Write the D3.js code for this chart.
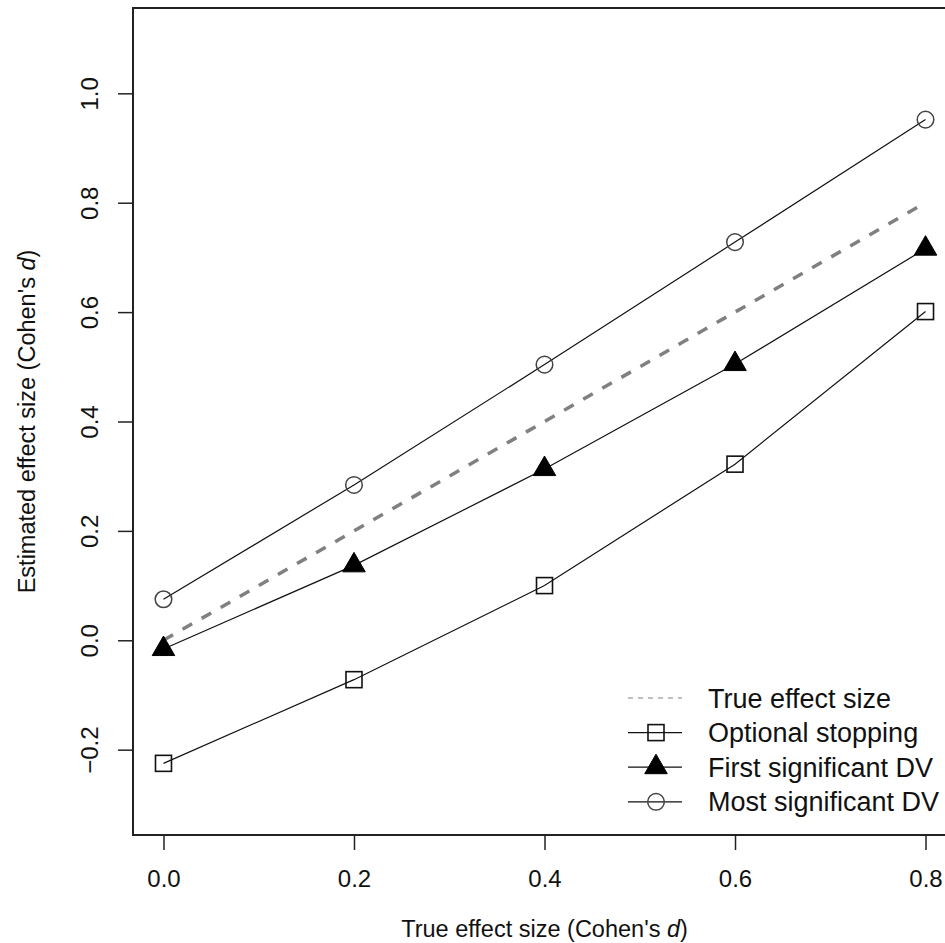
<!DOCTYPE html>
<html>
<head>
<meta charset="utf-8">
<script src="https://cdn.jsdelivr.net/npm/d3@7"></script>
<style>
  body { margin: 0; background: #fff; }
  svg { font-family: "Liberation Sans", Arial, sans-serif; }
</style>
</head>
<body>
<div id="chart"></div>
<script>
// true effect sizes on the x axis
const trueEffect = [0, 0.2, 0.4, 0.6, 0.8];
// estimated effect sizes per strategy
const optionalStopping = [-0.225, -0.072, 0.100, 0.322, 0.601];
const firstSignificant = [-0.016, 0.137, 0.313, 0.505, 0.716];
const mostSignificant = [0.075, 0.284, 0.504, 0.728, 0.952];

const xTicks = [0, 0.2, 0.4, 0.6, 0.8];
const yTicks = [-0.2, 0, 0.2, 0.4, 0.6, 0.8, 1.0];
const legendLabels = ["True effect size", "Optional stopping", "First significant DV", "Most significant DV"];

const width = 945, height = 943;
const margin = {top: 8, right: -11, bottom: 108, left: 133};

const svg = d3.select("#chart").append("svg")
    .attr("width", width)
    .attr("height", height);

// R style: limits padded by 4%
const x = d3.scaleLinear()
    .domain([-0.032, 0.832])
    .range([margin.left, width - margin.right]);
const y = d3.scaleLinear()
    .domain([-0.356, 1.156])
    .range([height - margin.bottom, margin.top]);

const fmt = d3.format(".1f");

// x axis
const xAxisG = svg.append("g")
    .attr("transform", `translate(0,${y.range()[0]})`)
    .call(d3.axisBottom(x).tickValues(xTicks).tickFormat(fmt).tickSize(15).tickSizeOuter(0));
xAxisG.select(".domain").remove();
xAxisG.selectAll(".tick line").attr("stroke", "#222").attr("stroke-width", 1.5);
xAxisG.selectAll(".tick text")
    .attr("y", 52)
    .attr("dy", 0)
    .attr("font-size", 24)
    .attr("fill", "#111");

// y axis, labels rotated like R's default
const yAxisG = svg.append("g")
    .attr("transform", `translate(${x.range()[0]},0)`)
    .call(d3.axisLeft(y).tickValues(yTicks).tickFormat(fmt).tickSize(15).tickSizeOuter(0));
yAxisG.select(".domain").remove();
yAxisG.selectAll(".tick line").attr("stroke", "#222").attr("stroke-width", 1.5);
yAxisG.selectAll(".tick text")
    .attr("x", 0).attr("y", 0).attr("dy", 0)
    .attr("transform", "translate(-35,0) rotate(-90)")
    .attr("text-anchor", "middle")
    .attr("font-size", 24)
    .attr("fill", "#111");

// plot box
svg.append("rect")
    .attr("x", x.range()[0])
    .attr("y", y.range()[1])
    .attr("width", x.range()[1] - x.range()[0])
    .attr("height", y.range()[0] - y.range()[1])
    .attr("fill", "none")
    .attr("stroke", "#222")
    .attr("stroke-width", 2);

// axis titles
const xTitle = svg.append("text")
    .attr("x", (x.range()[0] + x.range()[1]) / 2)
    .attr("y", 937)
    .attr("text-anchor", "middle")
    .attr("font-size", 23.5)
    .attr("fill", "#111");
xTitle.append("tspan").text("True effect size (Cohen's ");
xTitle.append("tspan").attr("font-style", "italic").text("d");
xTitle.append("tspan").text(")");

const yTitle = svg.append("text")
    .attr("transform", `translate(35,${(y.range()[0] + y.range()[1]) / 2}) rotate(-90)`)
    .attr("text-anchor", "middle")
    .attr("font-size", 23.5)
    .attr("fill", "#111");
yTitle.append("tspan").text("Estimated effect size (Cohen's ");
yTitle.append("tspan").attr("font-style", "italic").text("d");
yTitle.append("tspan").text(")");

const line = d3.line()
    .x((d, i) => x(trueEffect[i]))
    .y(d => y(d));

// true effect reference line
svg.append("path")
    .datum(trueEffect)
    .attr("d", line)
    .attr("fill", "none")
    .attr("stroke", "#808080")
    .attr("stroke-width", 3.5)
    .attr("stroke-dasharray", "11,11");

const series = [
    {values: optionalStopping, shape: "square"},
    {values: firstSignificant, shape: "triangle"},
    {values: mostSignificant, shape: "circle"}
];

series.forEach(s => {
    svg.append("path")
        .datum(s.values)
        .attr("d", line)
        .attr("fill", "none")
        .attr("stroke", "#111")
        .attr("stroke-width", 1.2);
});

// draw a marker at (cx, cy)
function marker(g, shape, cx, cy) {
    if (shape === "square") {
        g.append("rect")
            .attr("x", cx - 8).attr("y", cy - 8)
            .attr("width", 16).attr("height", 16)
            .attr("fill", "none").attr("stroke", "#111").attr("stroke-width", 1.6);
    } else if (shape === "triangle") {
        const r = 13;
        g.append("path")
            .attr("d", `M${cx},${cy - r}L${cx + r * 0.866},${cy + r / 2}L${cx - r * 0.866},${cy + r / 2}Z`)
            .attr("fill", "#000").attr("stroke", "#000").attr("stroke-width", 1);
    } else {
        g.append("circle")
            .attr("cx", cx).attr("cy", cy).attr("r", 8.3)
            .attr("fill", "none").attr("stroke", "#444").attr("stroke-width", 1.5);
    }
}

series.forEach(s => {
    const g = svg.append("g");
    s.values.forEach((v, i) => marker(g, s.shape, x(trueEffect[i]), y(v)));
});

// legend (no box)
const legend = svg.append("g").attr("transform", "translate(628,698)");
const rowH = 34.6;
legendLabels.forEach((label, i) => {
    const row = legend.append("g").attr("transform", `translate(0,${i * rowH})`);
    if (i === 0) {
        row.append("line")
            .attr("x1", 0).attr("x2", 54)
            .attr("stroke", "#808080").attr("stroke-width", 1.2)
            .attr("stroke-dasharray", "5,5");
    } else {
        row.append("line")
            .attr("x1", 0).attr("x2", 54)
            .attr("stroke", "#111").attr("stroke-width", 1.2);
        marker(row, series[i - 1].shape, 28, 0);
    }
    row.append("text")
        .attr("x", 80)
        .attr("y", 9.5)
        .attr("font-size", 27)
        .attr("fill", "#111")
        .text(label);
});
</script>
</body>
</html>
